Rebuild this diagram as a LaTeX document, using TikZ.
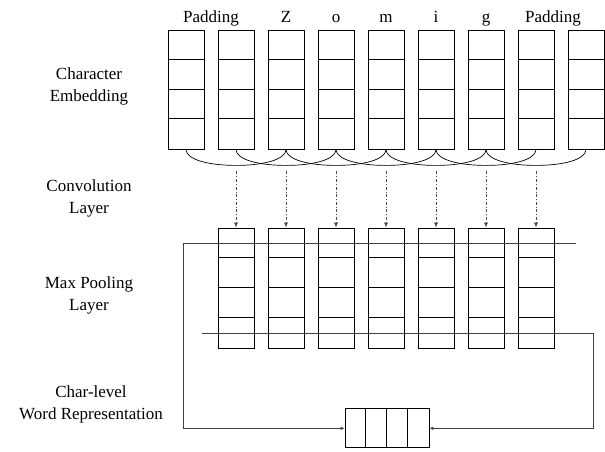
\documentclass[tikz,border=0pt]{standalone}
\usepackage{fontspec}
\setmainfont{Liberation Serif}
\usetikzlibrary{arrows.meta}
\begin{document}
\begin{tikzpicture}[x=1pt,y=-1pt,
  emb/.style={draw, line width=0.8pt, minimum width=36pt, minimum height=119pt, inner sep=0pt},
  conv/.style={draw, line width=0.8pt, minimum width=36pt, minimum height=120pt, inner sep=0pt},
  outbox/.style={draw, line width=0.8pt, minimum width=84pt, minimum height=39pt, inner sep=0pt},
  lbl/.style={font=\fontsize{17}{22}\selectfont, align=center},
  toplbl/.style={font=\fontsize{17}{22}\selectfont, anchor=base, inner sep=0pt},
  divider/.style={line width=0.8pt},
  longline/.style={line width=0.7pt, black!75},
  convarrow/.style={line width=0.6pt, black!70, dash dot, -{Latex[length=5pt,width=4pt]}},
  outarrow/.style={line width=0.7pt, black!75, -{Latex[length=4pt,width=3.5pt]}}
]
\useasboundingbox (0,0) rectangle (605,452);

% top labels
\node[toplbl] (p1) at (211,23) {Padding};
\node[toplbl] (tz) at (286,23) {Z};
\node[toplbl] (to) at (336,23) {o};
\node[toplbl] (tm) at (386,23) {m};
\node[toplbl] (ti) at (436,23) {i};
\node[toplbl] (tg) at (486,23) {g};
\node[toplbl] (p2) at (553,23) {Padding};

% left labels
\node[lbl] (l1) at (89,86) {Character\\Embedding};
\node[lbl] (l2) at (89,198) {Convolution\\Layer};
\node[lbl] (l3) at (89,295) {Max Pooling\\Layer};
\node[lbl] (l4) at (91,404) {Char-level\\Word Representation};

% embedding columns
\foreach \i in {0,...,8} {
  \node[emb] (e\i) at (186+50*\i, 89.5) {};
  \foreach \k in {1,2,3}
    \draw[divider] (e\i.north west) ++(0,29.75*\k) -- ++(36,0);
}

% convolution columns
\foreach \i in {1,...,7} {
  \node[conv] (c\i) at (186+50*\i, 288) {};
  \foreach \k in {1,2,3}
    \draw[divider] (c\i.north west) ++(0,30*\k) -- ++(36,0);
}

% arcs and arrows
\foreach \i in {1,...,7} {
  \pgfmathtruncatemacro{\prev}{\i-1}
  \pgfmathtruncatemacro{\next}{\i+1}
  \coordinate (a\i) at ([yshift=-16pt]e\i.south);
  \coordinate (s\i) at ([yshift=-22pt]e\i.south);
  \draw[line width=0.7pt] (e\prev.south) .. controls +(0,10) and +(-28,0) .. (a\i)
        .. controls +(28,0) and +(0,10) .. (e\next.south);
  \draw[convarrow] (s\i) -- (c\i.north);
}

% output box
\node[outbox] (out) at (387,428.3) {};
\foreach \k in {1,2,3}
  \draw[divider] (out.north west) ++(21*\k,0) -- ++(0,39);

% max pooling lines
\coordinate (t1) at (576,243);
\coordinate (t0) at (183,243);
\coordinate (b0) at (202,333);
\coordinate (b1) at (593,333);
\draw[longline] (t1) -- (t0);
\draw[outarrow] (t0) |- (out.west);
\draw[longline] (b0) -- (b1);
\draw[outarrow] (b1) |- (out.east);
\end{tikzpicture}
\end{document}
